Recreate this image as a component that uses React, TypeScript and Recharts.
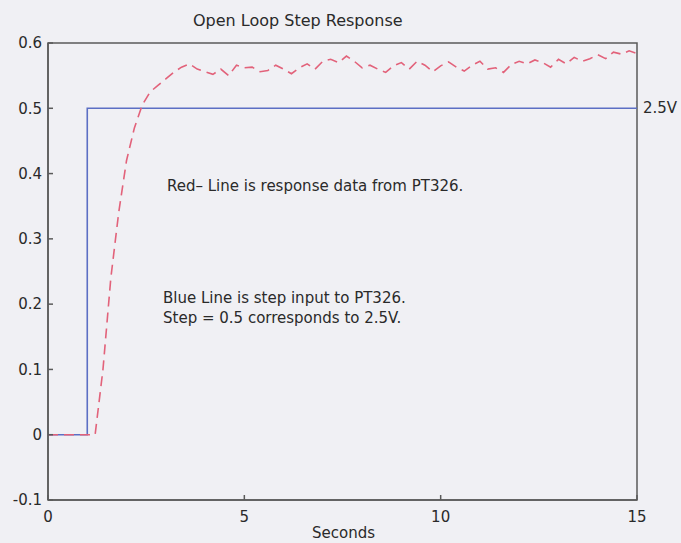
import React from "react";
import { LineChart, Line, XAxis, YAxis, ReferenceArea } from "recharts";

// Open loop step response of the PT326 process trainer
const stepTimes = [0, 1, 1, 15];
const stepValues = [0, 0, 0.5, 0.5];

const responseTimes = [
  0, 0.2, 0.4, 0.6, 0.8, 1.0, 1.2, 1.4, 1.6, 1.8, 2.0, 2.2, 2.4, 2.6, 2.8, 3.0,
  3.2, 3.4, 3.6, 3.8, 4.0, 4.2, 4.4, 4.6, 4.8, 5.0, 5.2, 5.4, 5.6, 5.8, 6.0,
  6.2, 6.4, 6.6, 6.8, 7.0, 7.2, 7.4, 7.6, 7.8, 8.0, 8.2, 8.4, 8.6, 8.8, 9.0,
  9.2, 9.4, 9.6, 9.8, 10.0, 10.2, 10.4, 10.6, 10.8, 11.0, 11.2, 11.4, 11.6,
  11.8, 12.0, 12.2, 12.4, 12.6, 12.8, 13.0, 13.2, 13.4, 13.6, 13.8, 14.0,
  14.2, 14.4, 14.6, 14.8, 15.0,
];
const responseValues = [
  0, 0, 0, 0, 0, 0, 0, 0.1, 0.24, 0.34, 0.42, 0.47, 0.505, 0.525, 0.535, 0.545,
  0.555, 0.563, 0.568, 0.56, 0.556, 0.552, 0.56, 0.55, 0.566, 0.562, 0.563,
  0.556, 0.558, 0.566, 0.56, 0.553, 0.562, 0.568, 0.56, 0.572, 0.575, 0.57,
  0.58, 0.572, 0.562, 0.566, 0.56, 0.555, 0.565, 0.57, 0.56, 0.572, 0.566,
  0.556, 0.565, 0.571, 0.563, 0.557, 0.566, 0.572, 0.56, 0.562, 0.555, 0.567,
  0.572, 0.568, 0.574, 0.57, 0.563, 0.575, 0.568, 0.578, 0.572, 0.576, 0.582,
  0.576, 0.586, 0.583, 0.588, 0.584,
];

const xTicks = [0, 5, 10, 15];
const yTicks = [-0.1, 0, 0.1, 0.2, 0.3, 0.4, 0.5, 0.6];

const stepData = stepTimes.map((t, i) => ({ t, v: stepValues[i] }));
const responseData = responseTimes.map((t, i) => ({ t, v: responseValues[i] }));

const FONT = "'DejaVu Sans', Verdana, sans-serif";
const AXIS = "#5a5a5a";
const tickStyle = { fill: "#2a2a2a", fontSize: 15, fontFamily: FONT };

const note: React.CSSProperties = {
  position: "absolute",
  fontFamily: FONT,
  fontSize: 15,
  color: "#2a2a2a",
  whiteSpace: "nowrap",
  lineHeight: "20px",
};

export default function App() {
  return (
    <div style={{ position: "absolute", left: 0, top: 0, width: 681, height: 543, background: "#f0f0f4" }}>
      <LineChart width={681} height={543} margin={{ top: 43, right: 44, bottom: 0, left: 0 }}>
        <XAxis
          xAxisId="b"
          type="number"
          dataKey="t"
          domain={[0, 15]}
          ticks={xTicks}
          allowDataOverflow
          height={43}
          stroke={AXIS}
          strokeWidth={1.5}
          tickSize={-5}
          tickMargin={16}
          tick={tickStyle}
        />
        <XAxis
          xAxisId="top"
          orientation="top"
          type="number"
          dataKey="t"
          domain={[0, 15]}
          ticks={xTicks}
          height={0}
          stroke={AXIS}
          strokeWidth={1.5}
          tickSize={-5}
          tickFormatter={() => ""}
        />
        <YAxis
          yAxisId="l"
          type="number"
          domain={[-0.1, 0.6]}
          ticks={yTicks}
          allowDataOverflow
          width={48}
          stroke={AXIS}
          strokeWidth={1.5}
          tickSize={-5}
          tickMargin={11}
          tick={tickStyle}
          tickFormatter={(v: number) => String(Math.round(v * 10) / 10)}
        />
        <YAxis
          yAxisId="r"
          orientation="right"
          type="number"
          domain={[-0.1, 0.6]}
          ticks={yTicks}
          width={0}
          stroke={AXIS}
          strokeWidth={1.5}
          tickSize={-5}
          tickFormatter={() => ""}
        />
        <Line
          xAxisId="b"
          yAxisId="l"
          data={stepData}
          dataKey="v"
          type="linear"
          stroke="#5c6fc4"
          strokeWidth={1.6}
          dot={false}
          isAnimationActive={false}
        />
        <Line
          xAxisId="b"
          yAxisId="l"
          data={responseData}
          dataKey="v"
          type="linear"
          stroke="#e2627a"
          strokeWidth={1.6}
          strokeDasharray="10 6"
          dot={false}
          isAnimationActive={false}
        />
        <ReferenceArea
          xAxisId="b"
          yAxisId="l"
          x1={0}
          x2={15}
          y1={-0.1}
          y2={0.6}
          fill="none"
          stroke={AXIS}
          strokeWidth={1.5}
          ifOverflow="visible"
        />
      </LineChart>
      <div style={{ ...note, left: 193, top: 11, fontSize: 16 }}>Open Loop Step Response</div>
      <div style={{ ...note, left: 643, top: 98 }}>2.5V</div>
      <div style={{ ...note, left: 167, top: 176 }}>Red– Line is response data from PT326.</div>
      <div style={{ ...note, left: 163, top: 288 }}>Blue Line is step input to PT326.</div>
      <div style={{ ...note, left: 163, top: 308 }}>Step = 0.5 corresponds to 2.5V.</div>
      <div style={{ ...note, left: 312, top: 523 }}>Seconds</div>
    </div>
  );
}
